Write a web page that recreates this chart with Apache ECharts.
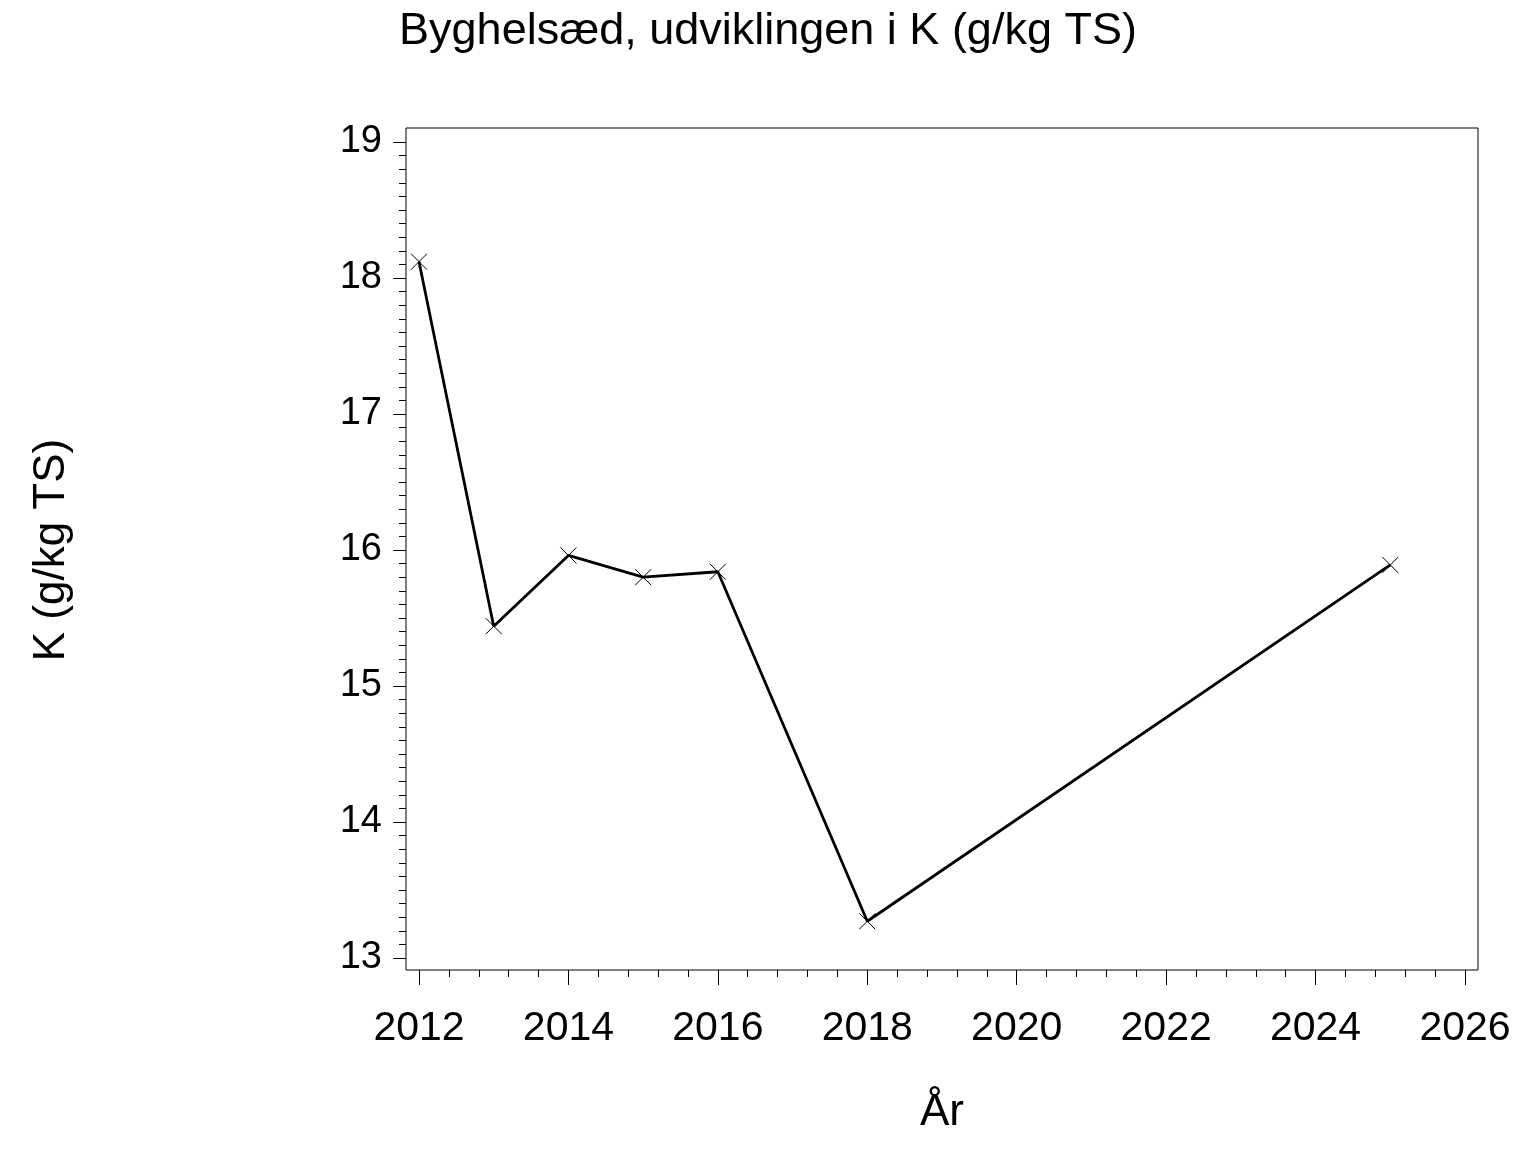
<!DOCTYPE html>
<html>
<head>
<meta charset="utf-8">
<script src="https://cdn.jsdelivr.net/npm/echarts@6/dist/echarts.min.js"></script>
<style>html,body{margin:0;padding:0;background:#fff}#c{width:1536px;height:1152px}</style>
</head>
<body>
<div id="c"></div>
<script>
var years = [2012, 2013, 2014, 2015, 2016, 2018, 2025];
var kValues = [18.12, 15.44, 15.96, 15.80, 15.84, 13.27, 15.89];
var xTickLabels = [2012, 2014, 2016, 2018, 2020, 2022, 2024, 2026];
var yTickLabels = [13, 14, 15, 16, 17, 18, 19];
var titleText = 'Byghelsæd, udviklingen i K (g/kg TS)';
var xName = 'År';
var yName = 'K (g/kg TS)';

var font = '"Liberation Sans", Arial, sans-serif';
var points = years.map(function (y, i) { return [y, kValues[i]]; });

var chart = echarts.init(document.getElementById('c'), null, {renderer: 'canvas'});
chart.setOption({
  backgroundColor: '#fff',
  animation: false,
  title: {
    text: titleText, left: 'center', top: 4,
    textStyle: {fontFamily: font, fontSize: 45, fontWeight: 'normal', color: '#000'}
  },
  grid: [
    {left: 419, right: 71, top: 142, bottom: 194},
    {left: 406, right: 58, top: 128, bottom: 182, show: true, borderColor: '#000', borderWidth: 1, backgroundColor: 'transparent'}
  ],
  xAxis: [
    {
      type: 'value', gridIndex: 0,
      min: xTickLabels[0], max: xTickLabels[xTickLabels.length - 1], interval: 2,
      offset: 12,
      axisLine: {show: false},
      axisTick: {show: true, length: 15, lineStyle: {color: '#000', width: 1}},
      minorTick: {show: true, splitNumber: 5, length: 7, lineStyle: {color: '#000', width: 1}},
      splitLine: {show: false},
      axisLabel: {margin: 38, fontFamily: font, fontSize: 41, color: '#000',
        formatter: function (v) { return String(v); }},
      name: xName, nameLocation: 'middle', nameGap: 121,
      nameTextStyle: {fontFamily: font, fontSize: 44, color: '#000'}
    },
    {type: 'value', gridIndex: 1, show: false, min: 0, max: 1}
  ],
  yAxis: [
    {
      type: 'value', gridIndex: 0,
      min: yTickLabels[0], max: yTickLabels[yTickLabels.length - 1], interval: 1,
      offset: 13,
      axisLine: {show: false},
      axisTick: {show: true, length: 13, lineStyle: {color: '#000', width: 1}},
      minorTick: {show: true, splitNumber: 10, length: 7, lineStyle: {color: '#000', width: 1}},
      splitLine: {show: false},
      axisLabel: {margin: 24, fontFamily: font, fontSize: 38, color: '#000'},
      name: yName, nameLocation: 'middle', nameGap: 332, nameRotate: 90,
      nameTextStyle: {fontFamily: font, fontSize: 44, color: '#000'}
    },
    {type: 'value', gridIndex: 1, show: false, min: 0, max: 1}
  ],
  series: [{
    type: 'line',
    xAxisIndex: 0, yAxisIndex: 0,
    data: points,
    symbol: 'path://M0,0L10,10M10,0L0,10',
    symbolSize: 16,
    showAllSymbol: true,
    lineStyle: {color: '#000', width: 2.8},
    itemStyle: {color: 'none', borderColor: '#000', borderWidth: 1}
  }]
});
</script>
</body>
</html>
